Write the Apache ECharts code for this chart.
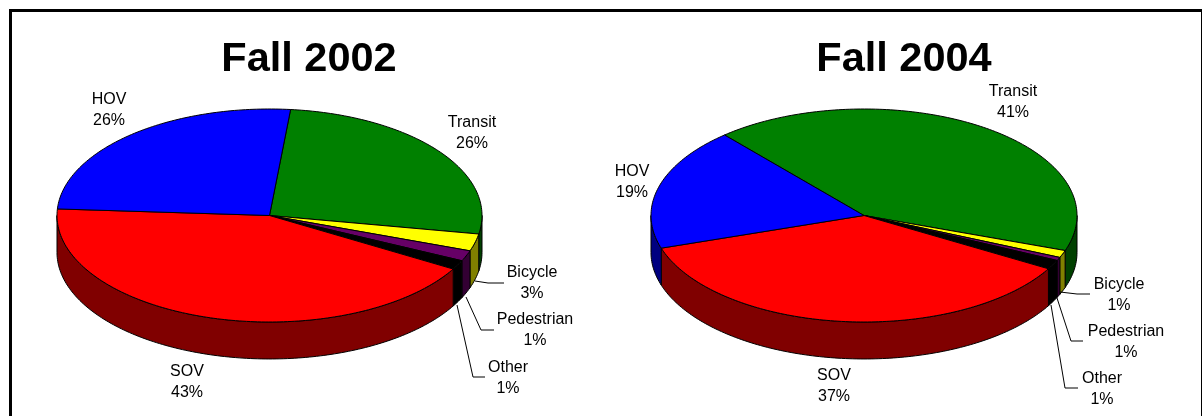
<!DOCTYPE html>
<html>
<head>
<meta charset="utf-8">
<style>html,body{margin:0;padding:0;background:#fff}#c{width:1202px;height:416px}</style>
<script src="https://cdn.jsdelivr.net/npm/echarts@6/dist/echarts.min.js"></script>
</head>
<body>
<div id="c"></div>
<script>
// ---- data ----
const categories = ['Transit', 'Bicycle', 'Pedestrian', 'Other', 'SOV', 'HOV'];
const titles = ['Fall 2002', 'Fall 2004'];
// slice sizes as drawn (percent of the circle)
const shares2002 = [26.2, 2.6, 1.6, 1.4, 42.6, 25.6];
const shares2004 = [41.7, 1.1, 0.5, 1.4, 36.7, 18.6];
// percentages as printed on the labels
const printed2002 = ['26%', '3%', '1%', '1%', '43%', '26%'];
const printed2004 = ['41%', '1%', '1%', '1%', '37%', '19%'];

// ---- styling and layout ----
const topColors = ['#008000', '#ffff00', '#660066', '#000000', '#ff0000', '#0000ff'];
const wallColors = ['#004000', '#808000', '#330033', '#000000', '#800000', '#000080'];
const FONT = '"Liberation Sans", Arial, sans-serif';
const DEPTH = 0.347; // wall height in units of the ellipse's vertical radius
const pies = [
  { shares: shares2002, printed: printed2002, startDeg: 5.7, grid: { left: 57, top: 109, width: 425, height: 213 }, titleX: 309,
    labels: [[472, 133], [532, 283], [535, 330], [508, 378], [187, 382], [109, 110]],
    leaders: { 1: [[475, 281], [488, 283], [504, 283]], 2: [[466, 297], [481, 330], [494, 330]], 3: [[457, 305], [473, 377], [485, 377]] } },
  { shares: shares2004, printed: printed2004, startDeg: 319.1, grid: { left: 651, top: 109, width: 426, height: 213 }, titleX: 904,
    labels: [[1013, 102], [1119, 295], [1126, 342], [1102, 389], [834, 386], [632, 182]],
    leaders: { 1: [[1060, 292], [1077, 294], [1090, 294]], 2: [[1057, 298], [1071, 341], [1083, 341]], 3: [[1051, 305], [1065, 388], [1078, 388]] } }
];

function sliceRows(p) {
  let a = p.startDeg;
  return p.shares.map((s, i) => { const from = a; a += s * 3.6; return [from, a, i]; });
}
const unit = deg => { const r = deg * Math.PI / 180; return [Math.sin(r), Math.cos(r)]; };
function arc(from, to) {
  const out = [];
  for (let d = from; d < to; d += 1) out.push(d);
  out.push(to);
  return out;
}
const stroke = { stroke: '#000', lineWidth: 1 };

function renderTop(params, api) {
  const from = api.value(0), to = api.value(1), i = api.value(2);
  const pts = [api.coord([0, 0])];
  arc(from, to).forEach(d => pts.push(api.coord(unit(d))));
  return { type: 'polygon', shape: { points: pts }, style: Object.assign({ fill: topColors[i] }, stroke) };
}
function renderWall(params, api) {
  const from = api.value(0), to = api.value(1), i = api.value(2);
  // only the near half of the rim (90..270 degrees) shows a wall
  const children = [];
  [0, 360].forEach(off => {
    const a = Math.max(from, 90 + off), b = Math.min(to, 270 + off);
    if (b <= a) return;
    const up = [], down = [];
    arc(a, b).forEach(d => {
      const u = unit(d);
      up.push(api.coord(u));
      down.unshift(api.coord([u[0], u[1] - DEPTH]));
    });
    children.push({ type: 'polygon', shape: { points: up.concat(down) }, style: Object.assign({ fill: wallColors[i] }, stroke) });
  });
  return { type: 'group', children };
}
function labelRenderer(p) {
  return function (params, api) {
    const i = api.value(2);
    const children = [];
    if (p.leaders[i]) children.push({ type: 'polyline', shape: { points: p.leaders[i] }, style: { stroke: '#000', lineWidth: 1, fill: null } });
    children.push({ type: 'text', style: {
      text: categories[i] + '\n' + p.printed[i], x: p.labels[i][0], y: p.labels[i][1],
      align: 'center', verticalAlign: 'middle', font: '16px ' + FONT, lineHeight: 21, fill: '#000' } });
    return { type: 'group', children };
  };
}

const series = [];
pies.forEach((p, k) => {
  const rows = sliceRows(p);
  const base = { type: 'custom', xAxisIndex: k, yAxisIndex: k, data: rows, silent: true, animation: false, encode: { x: 0, y: 1 } };
  series.push(Object.assign({}, base, { renderItem: renderWall, z: 2 }));
  series.push(Object.assign({}, base, { renderItem: renderTop, z: 3 }));
  series.push(Object.assign({}, base, { renderItem: labelRenderer(p), z: 4 }));
});

const chart = echarts.init(document.getElementById('c'), null, { renderer: 'canvas' });
chart.setOption({
  backgroundColor: '#fff',
  animation: false,
  title: pies.map((p, k) => ({
    text: titles[k], left: p.titleX, top: 60, textAlign: 'center', textVerticalAlign: 'middle', padding: 0,
    textStyle: { fontFamily: FONT, fontWeight: 'bold', fontSize: 41.5, color: '#000' }
  })),
  grid: pies.map(p => p.grid),
  xAxis: pies.map((p, k) => ({ type: 'value', gridIndex: k, min: -1, max: 1, show: false })),
  yAxis: pies.map((p, k) => ({ type: 'value', gridIndex: k, min: -1, max: 1, show: false })),
  series,
  graphic: [
    { type: 'rect', z: 10, shape: { x: 9, y: 9, width: 1193, height: 3 }, style: { fill: '#000' } },
    { type: 'rect', z: 10, shape: { x: 9, y: 9, width: 3, height: 407 }, style: { fill: '#000' } },
    { type: 'rect', z: 10, shape: { x: 1201, y: 9, width: 1, height: 407 }, style: { fill: '#000' } }
  ]
});
</script>
</body>
</html>
